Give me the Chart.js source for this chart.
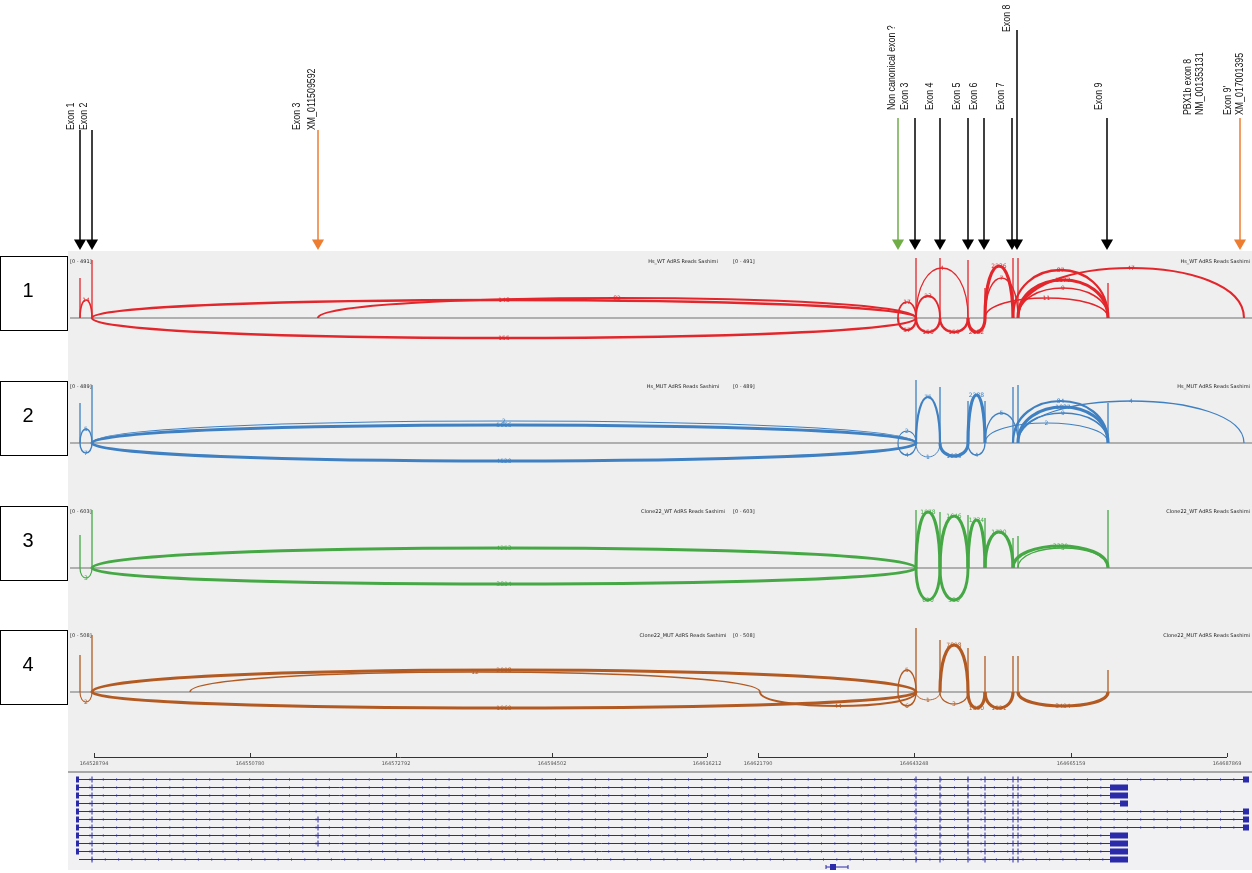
<!DOCTYPE html>
<html>
<head>
<meta charset="utf-8">
<title>PBX1 sashimi</title>
<script src="https://cdn.jsdelivr.net/npm/chart.js@4.4.1/dist/chart.umd.min.js"></script>
<style>
  html, body { margin: 0; padding: 0; background: #fff; }
  #wrap { width: 1252px; height: 873px; }
</style>
</head>
<body>
<div id="wrap"><canvas id="sashimi" width="1252" height="873"></canvas></div>
<script>
// exon positions on the (broken) genome axis, in layout units
const exonPos = [80, 92, 318, 898, 916, 940, 968, 985, 1013, 1018, 1108, 1244];

// annotation arrows above the tracks
const arrowX = [80, 92, 318, 898, 915, 940, 968, 984, 1012, 1017, 1107, 1240];
const arrowTop = [130, 130, 130, 118, 118, 118, 118, 118, 118, 30, 118, 118];
const arrowColor = ['#000', '#000', '#ed7d31', '#70ad47', '#000', '#000', '#000', '#000', '#000', '#000', '#000', '#ed7d31'];
const annotText = ['Exon 1', 'Exon 2', 'Exon 3', 'XM_011509592', 'Non canonical exon ?', 'Exon 3', 'Exon 4', 'Exon 5', 'Exon 6',
  'Exon 7', 'Exon 8', 'Exon 9', 'PBX1b exon 8', 'NM_001353131', "Exon 9'", 'XM_017001395'];
const annotX = [71, 84, 297, 312, 892, 905, 930, 957, 974, 1001, 1007, 1099, 1188, 1200, 1228, 1240];
const annotBottom = [130, 130, 130, 130, 110, 110, 110, 110, 110, 110, 32, 110, 115, 115, 115, 115];

// sashimi tracks
const trackNames = ['Hs_WT AdRS Reads Sashimi', 'Hs_MUT AdRS Reads Sashimi', 'Clone22_WT AdRS Reads Sashimi', 'Clone22_MUT AdRS Reads Sashimi'];
const trackRange = ['[0 - 491]', '[0 - 489]', '[0 - 603]', '[0 - 508]'];
const trackBase = [318, 443, 568, 692];
const trackColor = ['#e3262b', '#3f80c2', '#45a845', '#b25a22'];

// coverage spike heights at each exon (same order as exonPos)
const cov1 = [40, 58, 0, 0, 60, 60, 58, 30, 60, 60, 35, 0];
const cov2 = [40, 58, 0, 0, 63, 56, 42, 42, 56, 58, 40, 0];
const cov3 = [33, 58, 0, 0, 58, 56, 53, 50, 30, 32, 58, 0];
const cov4 = [37, 57, 0, 0, 64, 52, 44, 36, 36, 36, 22, 0];

// junctions: [from, to, arc height (+ above / - below), read count]
const j1 = [[80, 92, 18, 14], [92, 916, 18, 148], [318, 916, 20, 82], [92, 916, -20, 155],
  [898, 916, 16, 17], [898, 916, -12, 57], [916, 940, 22, 23], [916, 940, -14, 150], [940, 968, -14, 159],
  [916, 968, 50, 4], [968, 985, -14, 2182], [985, 1013, 52, 2236], [985, 1018, 40, 7],
  [1013, 1108, 48, 87], [1018, 1108, 38, 1177], [1018, 1108, 30, 9], [1018, 1244, 50, 47], [985, 1108, 20, 11]];
const j2 = [[80, 92, 14, 5], [80, 92, -10, 7], [92, 916, 22, 2], [92, 916, 18, 5066], [92, 916, -18, 4520],
  [898, 916, 12, 2], [898, 916, -12, 4], [916, 940, 46, 75], [916, 940, -14, 1], [940, 968, -13, 1089],
  [968, 985, 48, 2288], [968, 985, -12, 4], [985, 1018, 30, 5], [1013, 1108, 42, 84],
  [1018, 1108, 36, 1037], [1018, 1108, 30, 9], [1018, 1244, 42, 4], [985, 1108, 20, 2]];
const j3 = [[80, 92, -10, 3], [92, 916, 20, 4253], [92, 916, -16, 3804],
  [916, 940, 56, 1978], [916, 940, -32, 620], [940, 968, 52, 1646], [940, 968, -32, 580],
  [968, 985, 48, 1734], [985, 1013, 36, 1720], [1013, 1108, 22, 3330], [1018, 1108, 20, 5]];
const j4 = [[80, 92, -10, 2], [92, 916, 22, 2008], [92, 916, -16, 1960], [190, 760, 20, 12], [760, 916, -14, 44],
  [898, 916, 22, 5], [898, 916, -14, 6], [916, 940, -8, 1], [940, 968, 47, 7898], [940, 968, -12, 3],
  [968, 985, -16, 1590], [985, 1013, -16, 1521], [1018, 1108, -14, 3494]];
const trackCov = [cov1, cov2, cov3, cov4];
const trackJunc = [j1, j2, j3, j4];

// genome axis
const tickPos = [94, 250, 396, 552, 707, 758, 914, 1071, 1227];
const tickLabels = ['164528794', '164550780', '164572792', '164594502', '164616212', '164621790', '164643248', '164665159', '164687869'];

// transcripts: end type 'box' = small end exon, 'block' = big 3' exon, 'small' = short 3' exon
const txEnd = ['box', 'block', 'block', 'small', 'box', 'box', 'box', 'block', 'block', 'block', 'block'];
const txAltExon3 = [false, false, false, false, false, true, true, true, true, false, false];

const sashimiPlugin = {
  id: 'sashimi',
  beforeDatasetsDraw(chart) {
    const ctx = chart.ctx;
    const X = v => chart.scales.x.getPixelForValue(v);
    const Y = v => chart.scales.y.getPixelForValue(v);
    ctx.save();

    // panel backgrounds
    ctx.fillStyle = '#efefef';
    ctx.fillRect(X(68), Y(251), X(1252) - X(68), Y(771) - Y(251));
    ctx.fillStyle = '#f1f1f3';
    ctx.fillRect(X(68), Y(773), X(1252) - X(68), Y(870) - Y(773));
    ctx.strokeStyle = '#a8a8a8';
    ctx.lineWidth = 2;
    ctx.beginPath(); ctx.moveTo(X(68), Y(772)); ctx.lineTo(X(1252), Y(772)); ctx.stroke();

    // arrow shafts
    ctx.lineWidth = 1.5;
    arrowX.forEach((x, i) => {
      ctx.strokeStyle = arrowColor[i];
      ctx.beginPath(); ctx.moveTo(X(x), Y(arrowTop[i])); ctx.lineTo(X(x), Y(240)); ctx.stroke();
    });

    // rotated annotation labels (condensed, Calibri-like)
    ctx.fillStyle = '#111';
    ctx.font = "11px 'Liberation Sans', sans-serif";
    annotText.forEach((s, i) => {
      ctx.save();
      ctx.translate(X(annotX[i]), Y(annotBottom[i]));
      ctx.rotate(-Math.PI / 2);
      ctx.scale(0.8, 1);
      ctx.textAlign = 'left'; ctx.textBaseline = 'middle';
      ctx.fillText(s, 0, 0);
      ctx.restore();
    });

    // numbered boxes
    trackBase.forEach((b, i) => {
      ctx.fillStyle = '#fff';
      ctx.fillRect(X(0), Y(b - 62), X(67) - X(0), Y(b + 12) - Y(b - 62));
      ctx.strokeStyle = '#000'; ctx.lineWidth = 1;
      ctx.strokeRect(X(0) + 0.5, Y(b - 62) + 0.5, X(67) - X(0), Y(b + 12) - Y(b - 62));
      ctx.fillStyle = '#000';
      ctx.font = "20px 'Liberation Sans', sans-serif";
      ctx.textAlign = 'center'; ctx.textBaseline = 'middle';
      ctx.fillText(String(i + 1), X(28), Y(b - 27));
    });

    // tracks
    trackBase.forEach((b, t) => {
      const col = trackColor[t];
      const top = b - 56;
      ctx.fillStyle = '#222';
      ctx.font = "5px 'DejaVu Sans', sans-serif";
      ctx.textBaseline = 'middle';
      ctx.textAlign = 'left';
      ctx.fillText(trackRange[t], X(70), Y(top));
      ctx.fillText(trackRange[t], X(733), Y(top));
      ctx.textAlign = 'center';
      ctx.fillText(trackNames[t], X(683), Y(top));
      ctx.textAlign = 'right';
      ctx.fillText(trackNames[t], X(1250), Y(top));

      // baseline
      ctx.strokeStyle = '#9a9a9a'; ctx.lineWidth = 1.5;
      ctx.beginPath(); ctx.moveTo(X(70), Y(b)); ctx.lineTo(X(1252), Y(b)); ctx.stroke();

      // coverage spikes
      ctx.strokeStyle = col; ctx.lineWidth = 1.3;
      trackCov[t].forEach((h, i) => {
        if (!h) return;
        ctx.beginPath(); ctx.moveTo(X(exonPos[i]), Y(b)); ctx.lineTo(X(exonPos[i]), Y(b - h)); ctx.stroke();
      });

      // junction arcs
      trackJunc[t].forEach(([a, e, h, n]) => {
        const x0 = X(a), x1 = X(e), y0 = Y(b), yp = Y(b - h);
        const cy = y0 + (yp - y0) / 0.75;
        ctx.strokeStyle = col;
        ctx.lineWidth = Math.min(3.2, 0.7 + Math.log10(n + 1) * 0.8);
        ctx.beginPath();
        ctx.moveTo(x0, y0);
        ctx.bezierCurveTo(x0, cy, x1, cy, x1, y0);
        ctx.stroke();
        ctx.fillStyle = col;
        ctx.font = "6px 'DejaVu Sans', sans-serif";
        ctx.textAlign = 'center'; ctx.textBaseline = 'middle';
        ctx.fillText(String(n), (x0 + x1) / 2, yp);
      });
    });

    // genome axis (two segments)
    ctx.strokeStyle = '#333'; ctx.lineWidth = 1;
    [[0, 4], [5, 8]].forEach(([s, e]) => {
      ctx.beginPath(); ctx.moveTo(X(tickPos[s]), Y(757.5)); ctx.lineTo(X(tickPos[e]), Y(757.5)); ctx.stroke();
    });
    ctx.fillStyle = '#555';
    ctx.font = "5px 'DejaVu Sans', sans-serif";
    ctx.textAlign = 'center'; ctx.textBaseline = 'middle';
    tickPos.forEach((x, i) => {
      ctx.beginPath(); ctx.moveTo(X(x) + 0.5, Y(753)); ctx.lineTo(X(x) + 0.5, Y(757)); ctx.stroke();
      ctx.fillText(tickLabels[i], X(x), Y(764));
    });

    // gene model
    const blue = '#2a2aaa';
    txEnd.forEach((kind, r) => {
      const y = Y(779 + r * 8);
      const xs = X(r === 10 ? 79 : 77);
      const xe = kind === 'box' ? X(1247) : X(1126);
      ctx.strokeStyle = blue; ctx.fillStyle = blue; ctx.lineWidth = 1;
      ctx.beginPath(); ctx.moveTo(xs, y + 0.5); ctx.lineTo(xe, y + 0.5); ctx.stroke();
      // strand ticks
      ctx.lineWidth = 0.5;
      for (let x = xs + 13; x < xe - 4; x += 13.3) {
        ctx.beginPath(); ctx.moveTo(x, y - 1); ctx.lineTo(x, y + 2); ctx.stroke();
      }
      // exons
      ctx.lineWidth = 1;
      if (r < 10) ctx.fillRect(xs - 1, y - 2.5, 3, 6);
      exonPos.forEach((p, k) => {
        if (k === 0 || k === 3 || k === 11 || k === 10) return;
        if (k === 2 && !txAltExon3[r]) return;
        ctx.beginPath(); ctx.moveTo(X(p), y - 2.5); ctx.lineTo(X(p), y + 3.5); ctx.stroke();
      });
      if (kind === 'box') ctx.fillRect(X(1243), y - 2.5, X(1249) - X(1243), 6);
      if (kind === 'block') ctx.fillRect(X(1110), y - 2.5, X(1128) - X(1110), 6);
      if (kind === 'small') ctx.fillRect(X(1120), y - 2.5, X(1128) - X(1120), 6);
    });
    const yg = Y(867);
    ctx.lineWidth = 1;
    ctx.beginPath(); ctx.moveTo(X(826), yg); ctx.lineTo(X(848), yg); ctx.stroke();
    ctx.beginPath(); ctx.moveTo(X(826), yg - 2); ctx.lineTo(X(826), yg + 2); ctx.moveTo(X(848), yg - 2); ctx.lineTo(X(848), yg + 2); ctx.stroke();
    ctx.fillRect(X(830), yg - 3, X(836) - X(830), 6);

    ctx.restore();
  }
};

new Chart(document.getElementById('sashimi'), {
  type: 'scatter',
  data: {
    datasets: [{
      data: arrowX.map(x => ({ x: x, y: 243 })),
      pointStyle: 'triangle',
      rotation: 180,
      pointRadius: 7,
      pointBackgroundColor: arrowColor,
      pointBorderColor: arrowColor,
      pointBorderWidth: 0,
      clip: false
    }]
  },
  options: {
    responsive: false,
    animation: false,
    events: [],
    layout: { padding: 0, autoPadding: false },
    scales: {
      x: { type: 'linear', min: 0, max: 1252, display: false },
      y: { type: 'linear', min: 0, max: 873, reverse: true, display: false }
    },
    plugins: { legend: { display: false }, tooltip: { enabled: false } }
  },
  plugins: [sashimiPlugin]
});
</script>
</body>
</html>
